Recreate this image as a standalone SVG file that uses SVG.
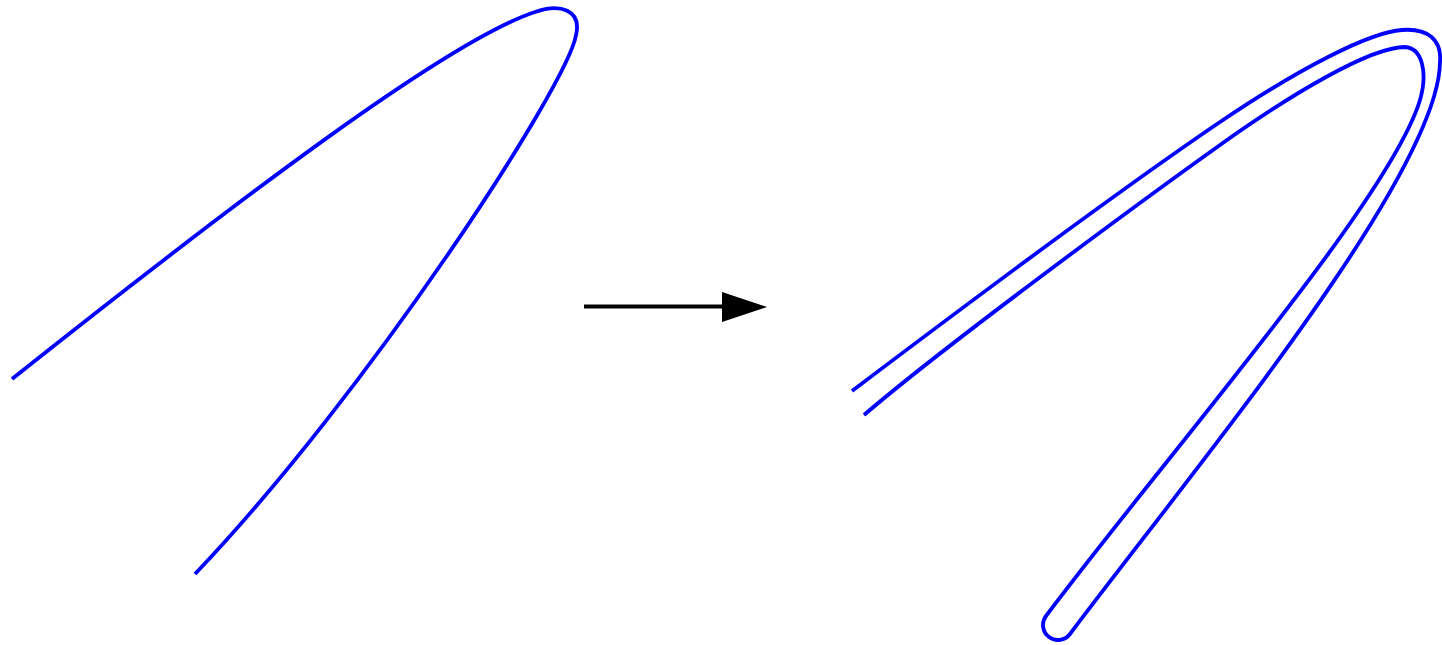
<svg xmlns="http://www.w3.org/2000/svg" width="1442" height="645" viewBox="0 0 1442 645">
<style>
.curve{fill:none;stroke:#0000ff;stroke-width:3.8;stroke-linejoin:round;stroke-linecap:butt}
.shaft{fill:none;stroke:#000;stroke-width:4}
</style>
<rect width="1442" height="645" fill="#fff"/>
<g id="original">
<path class="curve" d="M12,379 C250,190 450,40 535,12 C560,3 582,10 576,35 C568,85 367,394 195,574"/>
</g>
<g id="stroked">
<path class="curve" d="M852,391 C975,298 1130,183 1220,122 C1300,68 1370,32 1402,30 C1428,28 1442,40 1440,62 C1439,175 1190,474 1070,634 A15,15 0 0 1 1046,616 C1166,456 1390,200 1420,100 C1428,72 1422,48 1405,47 C1370,47 1290,95 1220,145 C1150,195 948,343 864,415"/>
</g>
<g id="connectors">
<line class="shaft" x1="584" y1="306.5" x2="726" y2="306.5"/>
<polygon points="722,292 767,307 722,322" fill="#000"/>
</g>
</svg>
